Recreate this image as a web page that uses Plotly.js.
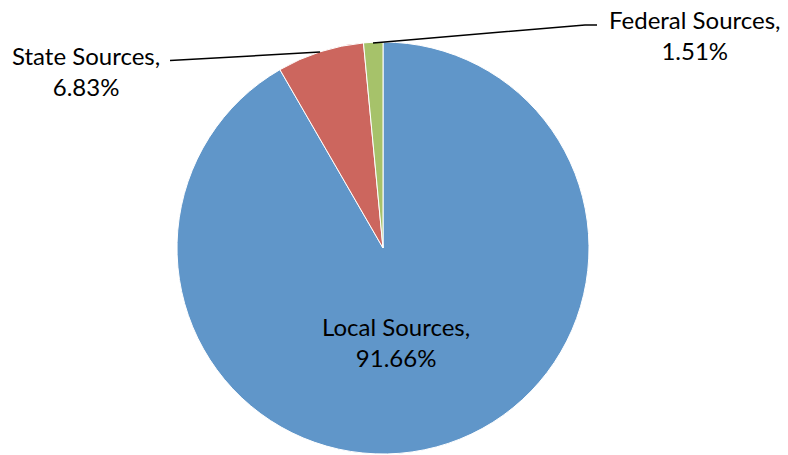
<!DOCTYPE html>
<html>
<head>
<meta charset="utf-8">
<script src="https://cdn.plot.ly/plotly-3.0.1.min.js"></script>
<style>html,body{margin:0;padding:0;background:#fff;}#chart{width:788px;height:455px;}</style>
</head>
<body>
<div id="chart"></div>
<script>
const labels = ["Local Sources", "State Sources", "Federal Sources"];
const values = [91.66, 6.83, 1.51];
const colors = ["#6096C9", "#CC665E", "#A6C26A"];

const W = 788, H = 455;
const px = (x) => x / W;
const py = (y) => 1 - y / H;
const fnt = {family: "Lato, 'Open Sans', sans-serif", size: 24, color: "#000"};
const txt = (i) => labels[i] + ",<br>" + values[i].toFixed(2) + "%";

const labelPos = [[396, 342], [86, 71], [695, 35]];
const annotations = labels.map((l, i) => ({
  text: txt(i), x: px(labelPos[i][0]), y: py(labelPos[i][1]),
  xref: "paper", yref: "paper", xanchor: "center", yanchor: "middle",
  showarrow: false, font: fnt, align: "center"
}));

const shapes = [
  {type: "path", xref: "paper", yref: "paper",
   path: "M " + px(170) + " " + py(60.5) + " L " + px(320) + " " + py(52),
   line: {color: "#000", width: 1.5}},
  {type: "path", xref: "paper", yref: "paper",
   path: "M " + px(373) + " " + py(43) + " L " + px(585) + " " + py(25) + " L " + px(597) + " " + py(25),
   line: {color: "#000", width: 1.5}}
];

Plotly.newPlot("chart", [{
  type: "pie",
  labels: labels,
  values: values,
  sort: false,
  direction: "clockwise",
  rotation: 0,
  textinfo: "none",
  hoverinfo: "label+percent",
  marker: {colors: colors, line: {color: "#fff", width: 1}},
  domain: {x: [px(177), px(589)], y: [py(454), py(42)]}
}], {
  width: W, height: H,
  margin: {l: 0, r: 0, t: 0, b: 0},
  showlegend: false,
  paper_bgcolor: "#fff",
  annotations: annotations,
  shapes: shapes
}, {staticPlot: true});
</script>
</body>
</html>
